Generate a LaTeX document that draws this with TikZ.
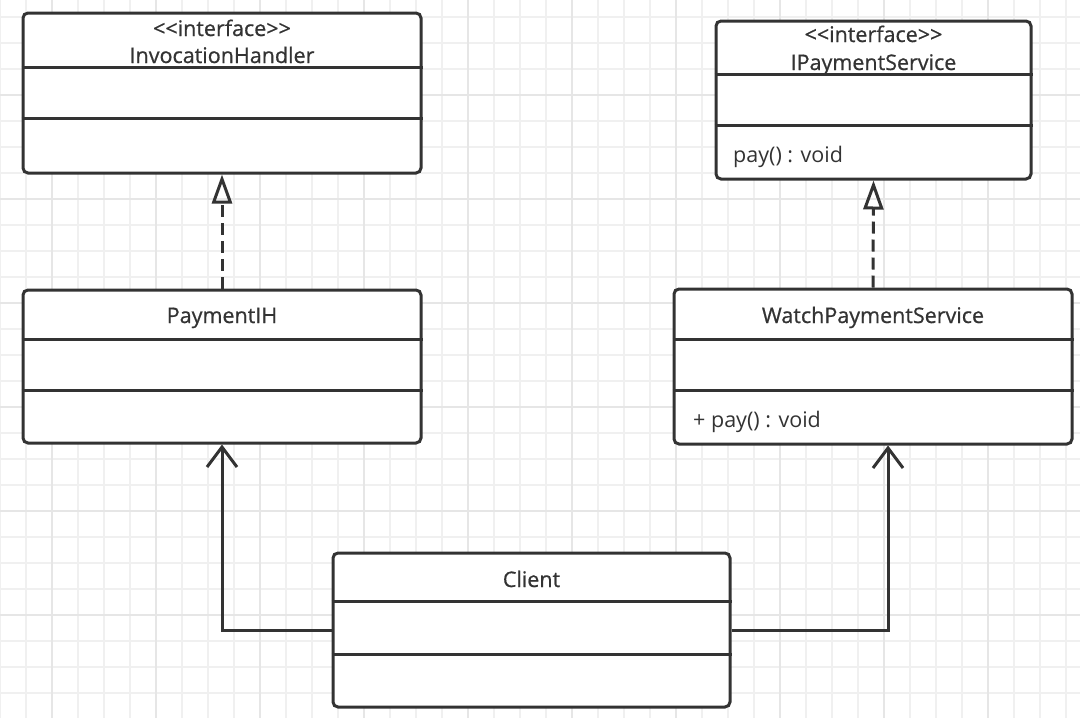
\documentclass[tikz,border=0pt]{standalone}
\usepackage{fontspec}
\setmainfont{Open Sans}[Ligatures=TeXOff]
\newfontfamily\titlefont{Open Sans}[Ligatures=TeXOff, FakeBold=0.7]
\usetikzlibrary{arrows.meta}
\definecolor{umlgray}{HTML}{333333}
\definecolor{gridminor}{HTML}{F0F0F0}
\definecolor{gridmajor}{HTML}{E6E6E6}

\begin{document}
\begin{tikzpicture}
        [%%%%%%%%%%%%%%%%%%%%%%%%%%%%%%
            x=1pt,y=-1pt,
            classbox/.style={draw=umlgray, fill=white, line width=3pt, rounded corners=5pt, inner sep=0pt},
            divider/.style={draw=umlgray, line width=3pt},
            classname/.style={text=umlgray, font=\titlefont\fontsize{21.5}{24}\selectfont, inner sep=0pt, anchor=base},
            memberline/.style={text=umlgray, font=\fontsize{21.5}{24}\selectfont, inner sep=0pt, anchor=base west},
            realize/.style={draw=umlgray, line width=3pt, dash pattern=on 12pt off 6pt, -{Triangle[open,length=29pt,width=20pt]}},
            assoc/.style={draw=umlgray, line width=3pt, -{Straight Barb[length=20pt,width=30pt]}},
        ]%%%%%%%%%%%%%%%%%%%%%%%%%%%%%%

        \useasboundingbox (0,0) rectangle (1080,718);
        \fill[white] (0,0) rectangle (1080,718);

        % background grid
        \foreach \k in {0,...,41}{
            \draw[gridminor, line width=1.3pt] (26*\k,0) -- (26*\k,718);
        }
        \foreach \k in {0,...,27}{
            \draw[gridminor, line width=1.3pt] (0,17+26*\k) -- (1080,17+26*\k);
        }
        \foreach \k in {2,6,...,38}{
            \draw[gridmajor, line width=1.3pt] (26*\k,0) -- (26*\k,718);
        }
        \foreach \k in {3,7,...,27}{
            \draw[gridmajor, line width=1.3pt] (0,17+26*\k) -- (1080,17+26*\k);
        }

        % classes
        \node[classbox, minimum width=398pt, minimum height=160pt] (invh) at (222,93) {};
        \draw[divider] ([yshift=-56pt]invh.north west) -- ([yshift=-56pt]invh.north east);
        \draw[divider] ([yshift=-107pt]invh.north west) -- ([yshift=-107pt]invh.north east);
        \node[classname] (invhstereo) at (222,36) {<<interface>>};
        \node[classname] (invhtitle) at (222,63) {InvocationHandler};

        \node[classbox, minimum width=315pt, minimum height=158pt] (ipay) at (873.5,100) {};
        \draw[divider] ([yshift=-55pt]ipay.north west) -- ([yshift=-55pt]ipay.north east);
        \draw[divider] ([yshift=-106pt]ipay.north west) -- ([yshift=-106pt]ipay.north east);
        \node[classname] (ipaystereo) at (873.5,42) {<<interface>>};
        \node[classname] (ipaytitle) at (873.5,70) {IPaymentService};
        \node[memberline] (ipaypay) at (733,162) {pay() : void};

        \node[classbox, minimum width=398pt, minimum height=153pt] (payih) at (222,366.5) {};
        \draw[divider] ([yshift=-51pt]payih.north west) -- ([yshift=-51pt]payih.north east);
        \draw[divider] ([yshift=-102pt]payih.north west) -- ([yshift=-102pt]payih.north east);
        \node[classname] (payihtitle) at (222,323) {PaymentIH};

        \node[classbox, minimum width=398pt, minimum height=155pt] (watch) at (873,366.5) {};
        \draw[divider] ([yshift=-52pt]watch.north west) -- ([yshift=-52pt]watch.north east);
        \draw[divider] ([yshift=-103pt]watch.north west) -- ([yshift=-103pt]watch.north east);
        \node[classname] (watchtitle) at (873,323) {WatchPaymentService};
        \node[memberline] (watchpay) at (693,427) {+ pay() : void};

        \node[classbox, minimum width=397pt, minimum height=154pt] (client) at (531.5,630) {};
        \draw[divider] ([yshift=-50pt]client.north west) -- ([yshift=-50pt]client.north east);
        \draw[divider] ([yshift=-103pt]client.north west) -- ([yshift=-103pt]client.north east);
        \node[classname] (clienttitle) at (531.5,587) {Client};

        % relations
        \draw[realize] (payih.north) -- (invh.south);
        \draw[realize] (watch.north) -- (ipay.south);
        \draw[assoc] (client.west) -| (payih.south);
        \draw[assoc] (client.east) -| ([xshift=15pt]watch.south);
\end{tikzpicture}
\end{document}
